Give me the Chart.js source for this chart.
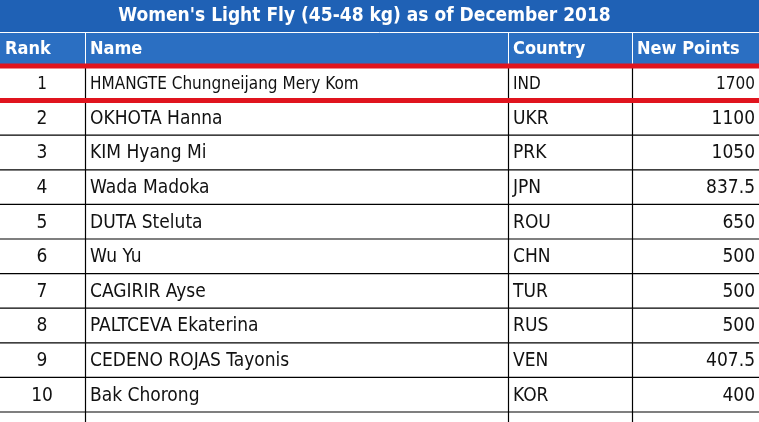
<!DOCTYPE html>
<html><head><meta charset="utf-8">
<script src="https://cdn.jsdelivr.net/npm/chart.js@4"></script>
<style>html,body{margin:0;padding:0;background:#fff}#w{width:759px;height:422px}</style>
</head><body><div id="w"><canvas id="c"></canvas></div>
<script>
const title = "Women's Light Fly (45-48 kg) as of December 2018";
const headers = ["Rank","Name","Country","New Points"];
const ranks = ["1","2","3","4","5","6","7","8","9","10"];
const names = ["HMANGTE Chungneijang Mery Kom","OKHOTA Hanna","KIM Hyang Mi","Wada Madoka","DUTA Steluta","Wu Yu","CAGIRIR Ayse","PALTCEVA Ekaterina","CEDENO ROJAS Tayonis","Bak Chorong"];
const countries = ["IND","UKR","PRK","JPN","ROU","CHN","TUR","RUS","VEN","KOR"];
const points = [1700,1100,1050,837.5,650,500,500,500,407.5,400];
const colX = [0,85,508,632,759];
const FONT = "'Liberation Sans Narrow','DejaVu Sans Condensed','Open Sans',sans-serif";
const tablePlugin = {
  id:'table',
  afterDraw(chart){
    const ctx=chart.ctx, y=chart.scales.y, W=chart.width, H=chart.height;
    const rh = Math.abs(y.getPixelForValue(1)-y.getPixelForValue(0));
    ctx.save();
    ctx.fillStyle='#fff';ctx.fillRect(0,0,W,H);
    // title + header
    ctx.fillStyle='#1f61b5';ctx.fillRect(0,0,W,32);
    ctx.fillStyle='#2b6fc2';ctx.fillRect(0,32,W,32);
    ctx.strokeStyle='#ffffff';ctx.lineWidth=1;
    ctx.beginPath();ctx.moveTo(0,32.5);ctx.lineTo(W,32.5);ctx.stroke();
    ctx.fillStyle='#fff';ctx.textBaseline='middle';
    ctx.font="bold 19px "+FONT;ctx.textAlign='center';ctx.fillText(title,W/2-15,16);
    ctx.font="bold 18px "+FONT;ctx.textAlign='left';
    headers.forEach((h,i)=>ctx.fillText(h,colX[i]+5,49));
    for(let i=1;i<4;i++){ctx.beginPath();ctx.moveTo(colX[i]+0.5,32);ctx.lineTo(colX[i]+0.5,64);ctx.stroke();}
    // rows
    ctx.strokeStyle='#000';ctx.lineWidth=1.2;
    ranks.forEach((r,i)=>{
      const cy=y.getPixelForValue(i), top=cy-rh/2, bot=cy+rh/2;
      ctx.beginPath();ctx.moveTo(0,bot);ctx.lineTo(W,bot);ctx.stroke();
      for(let k=1;k<4;k++){ctx.beginPath();ctx.moveTo(colX[k]+0.5,top);ctx.lineTo(colX[k]+0.5,bot);ctx.stroke();}
      ctx.fillStyle='#111';
      ctx.font=(i===0?"17px ":"19px ")+FONT;
      ctx.textAlign='center';ctx.fillText(r,42,cy+1);
      ctx.textAlign='left';ctx.fillText(names[i],colX[1]+5,cy+1);
      ctx.fillText(countries[i],colX[2]+5,cy+1);
      ctx.textAlign='right';ctx.fillText(String(points[i]),W-4,cy+1);
    });
    // extend below
    const last=y.getPixelForValue(9)+rh/2;
    for(let k=1;k<4;k++){ctx.beginPath();ctx.moveTo(colX[k]+0.5,last);ctx.lineTo(colX[k]+0.5,H);ctx.stroke();}
    // red highlight
    const c0=y.getPixelForValue(0);
    ctx.strokeStyle='#e0141e';ctx.lineWidth=5;
    ctx.beginPath();ctx.moveTo(0,c0-rh/2);ctx.lineTo(W,c0-rh/2);ctx.stroke();
    ctx.beginPath();ctx.moveTo(0,c0+rh/2);ctx.lineTo(W,c0+rh/2);ctx.stroke();
    ctx.restore();
  }
};
new Chart(document.getElementById('c'),{
  type:'bar',
  data:{labels:ranks,datasets:[{data:points,backgroundColor:'rgba(0,0,0,0)'}]},
  options:{indexAxis:'y',responsive:true,maintainAspectRatio:false,animation:false,
    layout:{padding:{top:66,bottom:10,left:0,right:0}},
    plugins:{legend:{display:false},tooltip:{enabled:false}},
    scales:{y:{display:false},x:{display:false}}},
  plugins:[tablePlugin]
});
</script></body></html>
